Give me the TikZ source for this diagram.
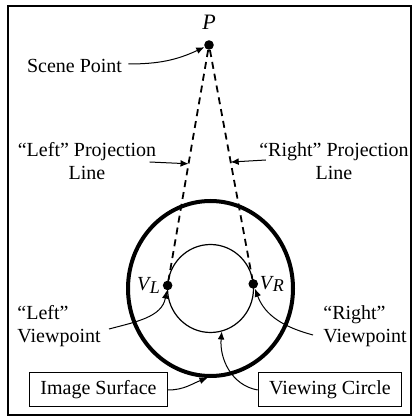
\documentclass[tikz,border=0pt]{standalone}
\usepackage{fontspec}
\setmainfont{Liberation Serif}
\usetikzlibrary{positioning,arrows.meta,calc}
\newcommand{\vsub}[1]{\textit{V}\kern-0.6pt\raisebox{-0.3ex}{\small\textit{#1}}}
\tikzset{
    frame/.style={draw,line width=1pt},
    surface/.style={draw,line width=2pt},
    viewcirc/.style={draw,line width=0.6pt},
    projline/.style={draw,line width=0.9pt,dash pattern=on 3.5pt off 2.5pt},
    dot/.style={circle,fill,inner sep=0pt,minimum size=4.8pt},
    lbl/.style={inner sep=0pt,font=\fontsize{10}{11.5}\selectfont},
    tag/.style={draw,line width=0.5pt,inner xsep=5.5pt,minimum height=17pt,font=\fontsize{10}{11.5}\selectfont},
    pointer/.style={draw,-{Latex[length=4pt,width=3.4pt]},line width=0.5pt},
}

\begin{document}
\begin{tikzpicture}[x=0.5pt,y=0.5pt]
    \useasboundingbox (0,0) rectangle (412,417);
    \draw[frame] (7.5,2) rectangle (410.5,411);

    % image surface and viewing circle
    \coordinate (ctr) at (210.5,128.5);
    \draw[surface] (ctr) ellipse [x radius=82.5,y radius=87.5];
    \draw[viewcirc] (ctr) ellipse [x radius=43,y radius=44];

    \node[dot] (P) at (209,372) {};
    \node[lbl,above=5pt of P,font=\fontsize{11}{12}\selectfont] (Plbl) {\textit{P}};
    \node[dot] (VL) at ($(ctr)+(176:43 and 44)$) {};
    \node[dot] (VR) at ($(ctr)+(6:43 and 44)$) {};
    \node[lbl,left=1pt of VL] (VLlbl) {\vsub{L}};
    \node[lbl,right=0.5pt of VR] (VRlbl) {\vsub{R}};

    \node[lbl] (scene) at (74.5,351) {Scene Point};
    \node[lbl,align=center] (lproj) at (87,256) {“Left” Projection\\Line};
    \node[lbl,align=center] (rproj) at (334,256) {“Right” Projection\\Line};
    \node[lbl,align=left,anchor=west] (lview) at (17,91) {“Left”\\Viewpoint};
    \node[lbl,align=left,anchor=west] (rview) at (323,91) {“Right”\\Viewpoint};
    \node[tag] (imgsurf) at (98.5,27) {Image Surface};
    \node[tag] (viewcircle) at (330,27) {Viewing Circle};

    \coordinate (lhit) at ($(P)!0.494!(VL)$);
    \coordinate (rhit) at ($(P)!0.49!(VR)$);
    \coordinate (surfhit) at ($(ctr)+(-92:84.5 and 89.5)$);
    \coordinate (viewhit) at ($(ctr)+(-75:43.5 and 44.5)$);

    % projection lines
    \draw[projline] (P) -- (VL);
    \draw[projline] (P) -- (VR);

    % callouts
    \draw[pointer] ($(scene.east)+(6,2)$) to[out=0,in=205] (P);
    \draw[pointer] ($(lproj.east)+(-7,-1)$) -- (lhit);
    \draw[pointer] ($(rproj.west)+(7,1)$) -- (rhit);
    \draw[pointer] ($(lview.east)+(8,-3)$) to[out=15,in=-100] (VL);
    \draw[pointer] ($(rview.west)+(-10,-9)$) to[out=165,in=-70] (VR);
    \draw[pointer] (imgsurf.east) to[out=0,in=200] (surfhit);
    \draw[pointer] (viewcircle.west) to[out=170,in=-95] (viewhit);
\end{tikzpicture}
\end{document}
